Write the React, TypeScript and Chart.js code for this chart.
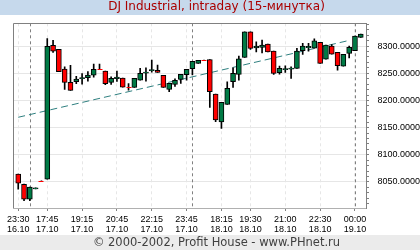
import React, { useEffect, useRef } from 'react';
import { Chart, registerables } from 'chart.js';

Chart.register(...registerables);

// 15-minute candles, slot index 0..59
const opens = [
  8064.5, 8045.8, 8018.2, 8037.0, 8051.8, 8055.0, 8301.3, 8293.9, 8257.7, 8233.3,
  8234.4, 8240.3, 8241.7, 8246.3, 8257.5, 8254.0, 8233.3, 8240.3, 8241.2, 8224.6,
  8224.0, 8237.5, 8250.4, 8255.0, 8255.3, 8246.0, 8220.4, 8229.6, 8238.8, 8247.6,
  8258.6, 8268.2, 8274.3, 8275.2, 8211.8, 8160.3, 8192.8, 8234.4, 8248.0, 8279.2,
  8326.3, 8296.9, 8297.6, 8303.7, 8290.8, 8251.0, 8256.8, 8257.7, 8259.0, 8291.4,
  8297.0, 8296.3, 8306.8, 8276.1, 8300.0, 8288.4, 8263.2, 8286.6, 8291.4, 8316.0,
];
const highs = [
  8064.5, 8046.0, 8040.3, 8039.0, 8051.8, 8314.0, 8310.5, 8293.9, 8262.0, 8264.5,
  8244.3, 8249.4, 8253.0, 8266.9, 8267.0, 8254.0, 8243.6, 8254.0, 8241.2, 8231.0,
  8240.6, 8259.0, 8260.0, 8274.3, 8265.0, 8246.0, 8231.4, 8240.0, 8248.0, 8257.4,
  8271.9, 8273.7, 8274.3, 8275.2, 8211.8, 8196.5, 8234.4, 8260.0, 8281.6, 8326.3,
  8326.3, 8308.0, 8311.0, 8303.7, 8290.8, 8263.2, 8263.8, 8262.0, 8295.8, 8305.0,
  8305.0, 8313.4, 8306.8, 8301.8, 8303.0, 8288.4, 8284.7, 8300.0, 8318.4, 8322.0,
];
const lows = [
  8036.6, 8015.6, 8015.6, 8037.0, 8051.8, 8055.0, 8288.4, 8252.8, 8220.4, 8218.6,
  8230.7, 8230.0, 8235.7, 8243.0, 8257.5, 8229.2, 8229.6, 8235.0, 8224.6, 8219.0,
  8224.0, 8237.5, 8235.7, 8252.2, 8251.7, 8224.0, 8216.0, 8226.0, 8231.4, 8237.5,
  8247.2, 8268.2, 8274.3, 8187.3, 8160.8, 8148.7, 8192.8, 8224.0, 8237.5, 8279.2,
  8294.0, 8289.5, 8287.7, 8289.5, 8248.0, 8248.5, 8251.7, 8240.6, 8259.0, 8284.7,
  8290.8, 8296.3, 8268.2, 8276.1, 8285.3, 8255.9, 8263.2, 8278.5, 8291.4, 8316.0,
];
const closes = [
  8047.6, 8018.2, 8040.3, 8039.0, 8051.8, 8299.5, 8290.8, 8252.8, 8233.3, 8218.6,
  8239.3, 8242.0, 8246.7, 8257.4, 8257.5, 8231.0, 8240.6, 8243.0, 8224.6, 8224.6,
  8240.6, 8249.8, 8252.2, 8256.8, 8251.7, 8224.0, 8231.4, 8237.0, 8248.0, 8257.4,
  8271.9, 8273.7, 8274.3, 8216.0, 8164.0, 8196.5, 8222.2, 8249.8, 8276.7, 8326.3,
  8295.8, 8300.0, 8301.8, 8289.5, 8249.8, 8259.0, 8258.6, 8259.6, 8290.8, 8300.0,
  8299.5, 8309.7, 8268.2, 8301.8, 8285.3, 8263.8, 8284.7, 8297.6, 8318.4, 8322.0,
];

const tickIdx = [0, 5, 11, 17, 23, 29, 35, 40, 46, 52, 58];
const tickTimes = ['23:30', '17:45', '19:15', '20:45', '22:15', '23:45', '18:15', '19:30', '21:00', '22:30', '00:00'];
const tickDates = ['16.10', '17.10', '17.10', '17.10', '17.10', '17.10', '18.10', '18.10', '18.10', '18.10', '19.10'];
const dayBreaks = [2, 30, 58];

const yLabelValues = [8050, 8100, 8150, 8200, 8250, 8300];
const yMinorStep = 10;

const trendX = [0, 57];
const trendY = [8169, 8310.5];

const TITLE = 'DJ Industrial, intraday (15-минутка)';
const FOOTER = '© 2000-2002, Profit House - www.PHnet.ru';

const GREEN = '#007a45';
const RED = '#ff0000';

export default function App() {
  const ref = useRef<HTMLCanvasElement>(null);

  useEffect(() => {
    if (!ref.current) return;
    const idx = opens.map((_, i) => i);
    const bodies = idx.map((i) => ({ x: i, y: [Math.min(opens[i], closes[i]), Math.max(opens[i], closes[i])] }));
    const wicks = idx.map((i) => ({ x: i, y: [lows[i], highs[i]] }));
    const bodyColors = idx.map((i) => (closes[i] >= opens[i] ? GREEN : RED));

    const decor = {
      id: 'decor',
      beforeDraw(chart: any) {
        const { ctx, width, height } = chart;
        ctx.save();
        ctx.fillStyle = '#ffffff';
        ctx.fillRect(0, 0, width, height);
        ctx.fillStyle = '#c6d9ec';
        ctx.fillRect(0, 0, width, 15);
        ctx.fillStyle = '#ebebeb';
        ctx.fillRect(0, 235, width, 15);
        ctx.restore();
      },
      beforeDatasetsDraw(chart: any) {
        const { ctx, chartArea: a, scales } = chart;
        const x = scales.x;
        ctx.save();
        ctx.strokeStyle = '#808080';
        ctx.lineWidth = 1;
        ctx.setLineDash([3, 3]);
        dayBreaks.forEach((d) => {
          const px = Math.round(x.getPixelForValue(d)) + 0.5;
          ctx.beginPath();
          ctx.moveTo(px, a.top);
          ctx.lineTo(px, a.bottom);
          ctx.stroke();
        });
        ctx.restore();
      },
      afterDatasetsDraw(chart: any) {
        const { ctx, chartArea: a, scales } = chart;
        const x = scales.x;
        const y = scales.y;
        ctx.save();
        ctx.strokeStyle = RED;
        ctx.lineWidth = 1;
        idx.forEach((i) => {
          if (opens[i] === closes[i]) {
            const px = Math.round(x.getPixelForValue(i));
            const py = Math.round(y.getPixelForValue(opens[i])) + 0.5;
            ctx.beginPath();
            ctx.moveTo(px - 2.5, py);
            ctx.lineTo(px + 2.5, py);
            ctx.stroke();
          }
        });
        ctx.strokeStyle = '#808080';
        ctx.beginPath();
        ctx.moveTo(Math.round(a.left) + 0.5, a.bottom);
        ctx.lineTo(Math.round(a.left) + 0.5, Math.round(a.top) + 0.5);
        ctx.lineTo(a.right, Math.round(a.top) + 0.5);
        ctx.stroke();
        ctx.restore();
      },
    };

    const tickFont = { family: 'Liberation Sans', size: 9, lineHeight: 1.12 };

    const chart = new Chart(ref.current, {
      type: 'bar',
      data: {
        datasets: [
          {
            type: 'line',
            data: trendX.map((v, k) => ({ x: v, y: trendY[k] })),
            borderColor: '#2f8080',
            borderWidth: 1,
            borderDash: [7, 4],
            pointRadius: 0,
            fill: false,
            order: 3,
          } as any,
          {
            type: 'bar',
            data: wicks,
            backgroundColor: '#000000',
            borderWidth: 0,
            barThickness: 1,
            grouped: false,
            order: 2,
          } as any,
          {
            type: 'bar',
            data: bodies,
            backgroundColor: bodyColors,
            borderColor: '#000000',
            borderWidth: 1,
            borderSkipped: false,
            barThickness: 5,
            grouped: false,
            order: 1,
          } as any,
        ],
      },
      options: {
        responsive: false,
        animation: false,
        events: [],
        layout: { padding: { left: 13, right: 0, top: 0, bottom: 0 } },
        plugins: {
          legend: { display: false },
          tooltip: { enabled: false },
          title: {
            display: true,
            text: TITLE,
            color: '#aa0000',
            font: { family: 'DejaVu Sans', size: 12, weight: 'normal', lineHeight: 1.2 },
            padding: { top: 0.1, bottom: 8.8 },
          },
          subtitle: {
            display: true,
            position: 'bottom',
            text: FOOTER,
            color: '#404040',
            font: { family: 'DejaVu Sans', size: 11.5, weight: 'normal', lineHeight: 1.2 },
            padding: { top: 1.2, bottom: 0 },
          },
        },
        scales: {
          x: {
            type: 'linear',
            min: -0.9,
            max: 59.9,
            offset: false,
            afterBuildTicks: (s: any) => {
              s.ticks = tickIdx.map((v) => ({ value: v }));
            },
            afterFit: (s: any) => {
              s.height = 27;
            },
            ticks: {
              autoSkip: false,
              maxRotation: 0,
              minRotation: 0,
              padding: 3,
              color: '#000000',
              font: tickFont,
              callback: (v: any) => {
                const k = tickIdx.indexOf(Number(v));
                return k >= 0 ? [tickTimes[k], tickDates[k]] : '';
              },
            },
            grid: { color: '#e6e6e6', tickColor: '#808080', tickLength: 3, offset: false },
            border: { display: true, color: '#b0b0b0', dash: [3, 3] },
          },
          y: {
            type: 'linear',
            position: 'right',
            min: 8002,
            max: 8342,
            afterBuildTicks: (s: any) => {
              const t: any[] = [];
              for (let v = 8010; v <= 8340; v += yMinorStep) t.push({ value: v });
              s.ticks = t;
            },
            afterFit: (s: any) => {
              s.width = 54;
            },
            ticks: {
              autoSkip: false,
              crossAlign: 'far',
              padding: 4,
              color: '#000000',
              font: tickFont,
              callback: (v: any) => (yLabelValues.includes(Number(v)) ? Number(v).toFixed(4) : ''),
            },
            grid: {
              color: (c: any) => (c.tick && yLabelValues.includes(c.tick.value) ? '#e6e6e6' : 'rgba(0,0,0,0)'),
              tickColor: '#808080',
              tickLength: 3,
            },
            border: { color: '#808080' },
          },
        },
      } as any,
      plugins: [decor],
    });

    return () => chart.destroy();
  }, []);

  return (
    <div style={{ position: 'fixed', left: 0, top: 0, width: 420, height: 250 }}>
      <canvas ref={ref} width={420} height={250} />
    </div>
  );
}
